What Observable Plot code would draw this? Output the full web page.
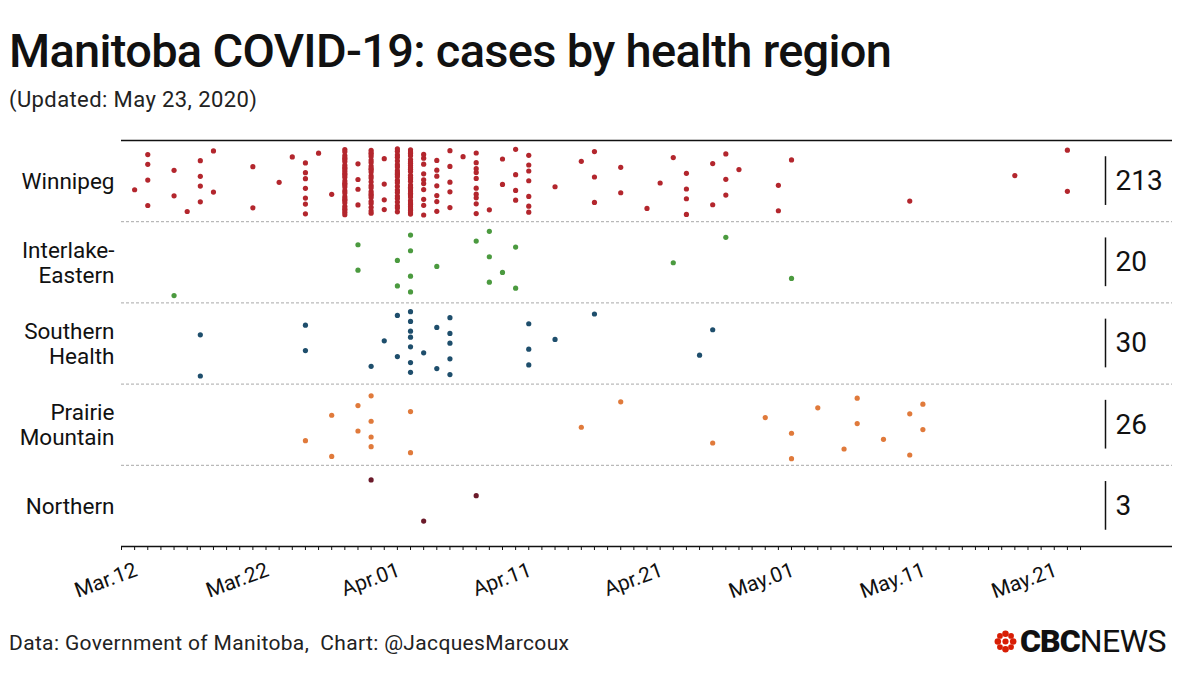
<!DOCTYPE html>
<html>
<head>
<meta charset="utf-8">
<script src="https://cdn.jsdelivr.net/npm/d3@7"></script>
<script src="https://cdn.jsdelivr.net/npm/@observablehq/plot@0.6"></script>
<style>
  html, body { margin: 0; padding: 0; background: #fff; }
  body { width: 1180px; height: 689px; position: relative; overflow: hidden; font-family: Roboto, sans-serif; color: #111; }
  #title { position: absolute; left: 9px; top: 27px; font-size: 47px; line-height: 1; font-weight: 500; letter-spacing: -0.7px; white-space: nowrap; }
  #sub { position: absolute; left: 9px; top: 89px; font-size: 22px; line-height: 1; color: #222; letter-spacing: 0.4px; white-space: nowrap; }
  #chart { position: absolute; left: 0; top: 130px; }
  #footer { position: absolute; left: 9px; top: 633px; font-size: 21px; line-height: 1; color: #222; letter-spacing: 0.35px; white-space: pre; }
  #logo { position: absolute; left: 994px; top: 625px; height: 32px; display: flex; align-items: center; white-space: nowrap; }
  #logo .cbc { font-weight: 900; font-size: 32px; letter-spacing: -1px; margin-left: 3px; color: #111; }
  #logo .news { font-weight: 400; font-size: 32px; letter-spacing: -0.5px; color: #111; }
</style>
</head>
<body>
<div id="title">Manitoba COVID-19: cases by health region</div>
<div id="sub">(Updated: May 23, 2020)</div>
<div id="chart"></div>
<div id="footer">Data: Government of Manitoba,  Chart: @JacquesMarcoux</div>
<div id="logo">
  <svg width="23" height="23" viewBox="-12 -12 24 24">
    <g fill="#d81e05">
      <circle cx="0" cy="0" r="3.2"/>
      <circle cx="0" cy="-8" r="3.4"/>
      <circle cx="0" cy="8" r="3.4"/>
      <circle cx="-8" cy="0" r="3.4"/>
      <circle cx="8" cy="0" r="3.4"/>
      <circle cx="-5.8" cy="-5.8" r="3"/>
      <circle cx="5.8" cy="-5.8" r="3"/>
      <circle cx="-5.8" cy="5.8" r="3"/>
      <circle cx="5.8" cy="5.8" r="3"/>
    </g>
  </svg>
  <span class="cbc">CBC</span><span class="news">NEWS</span>
</div>
<script>
// ---- Data ----
const regions = ["Winnipeg", "Interlake-Eastern", "Southern Health", "Prairie Mountain", "Northern"];
const regionLabels = ["Winnipeg", "Interlake-\nEastern", "Southern\nHealth", "Prairie\nMountain", "Northern"];
const regionColors = ["#b3262d", "#4b9a3f", "#1e4e6c", "#e07a3b", "#6b1a2a"];

const winnipegDates = ["2020-03-12","2020-03-13","2020-03-15","2020-03-16","2020-03-17","2020-03-18","2020-03-21","2020-03-23","2020-03-24","2020-03-25","2020-03-26","2020-03-27","2020-03-28","2020-03-29","2020-03-30","2020-03-31","2020-04-01","2020-04-02","2020-04-03","2020-04-04","2020-04-05","2020-04-06","2020-04-07","2020-04-08","2020-04-09","2020-04-10","2020-04-11","2020-04-13","2020-04-15","2020-04-16","2020-04-18","2020-04-20","2020-04-21","2020-04-22","2020-04-23","2020-04-25","2020-04-26","2020-04-27","2020-04-30","2020-05-01","2020-05-10","2020-05-18","2020-05-22"];
const winnipegCounts = [1,4,2,1,4,2,2,1,1,7,1,1,28,4,24,4,22,30,10,7,5,1,10,1,2,4,7,1,1,3,2,1,1,1,4,2,3,1,2,1,1,1,2];

const interlakeDates = ["2020-03-15","2020-03-29","2020-04-01","2020-04-02","2020-04-04","2020-04-07","2020-04-08","2020-04-09","2020-04-10","2020-04-22","2020-04-26","2020-05-01"];
const interlakeCounts = [1,2,2,4,1,1,3,1,2,1,1,1];

const southernDates = ["2020-03-17","2020-03-25","2020-03-30","2020-03-31","2020-04-01","2020-04-02","2020-04-03","2020-04-04","2020-04-05","2020-04-11","2020-04-13","2020-04-16","2020-04-24","2020-04-25"];
const southernCounts = [2,2,1,1,2,7,1,2,5,3,1,1,1,1];

const prairieDates = ["2020-03-25","2020-03-27","2020-03-29","2020-03-30","2020-04-02","2020-04-15","2020-04-18","2020-04-25","2020-04-29","2020-05-01","2020-05-03","2020-05-05","2020-05-06","2020-05-08","2020-05-10","2020-05-11"];
const prairieCounts = [1,2,2,4,2,1,1,1,1,2,1,1,2,1,2,2];

const northernDates = ["2020-03-30","2020-04-03","2020-04-07"];
const northernCounts = [1,1,1];

const tickLabelDates = ["2020-03-12","2020-03-22","2020-04-01","2020-04-11","2020-04-21","2020-05-01","2020-05-11","2020-05-21"];
const tickLabels = ["Mar.12","Mar.22","Apr.01","Apr.11","Apr.21","May.01","May.11","May.21"];

// ---- Build tables ----
const seriesDates = [winnipegDates, interlakeDates, southernDates, prairieDates, northernDates];
const seriesCounts = [winnipegCounts, interlakeCounts, southernCounts, prairieCounts, northernCounts];

const cases = [];
seriesDates.forEach((dates, ri) => {
  let k = 0;
  dates.forEach((ds, j) => {
    for (let c = 0; c < seriesCounts[ri][j]; c++) {
      // deterministic jitter inside the region's band (golden-ratio sequence)
      const frac = ((k + 1) * 0.6180339887 + ri * 0.37) % 1;
      cases.push({region: regions[ri], ri, date: new Date(ds), yj: ri + 0.1 + 0.82 * frac});
      k++;
    }
  });
});

const rows = regions.map((r, i) => ({region: r, i, label: regionLabels[i], total: d3.sum(seriesCounts[i])}));

const xDomain = [new Date("2020-03-11"), new Date("2020-05-30")];
const dayTicks = d3.utcDay.range(new Date("2020-03-11"), new Date("2020-05-24"));

const chart = Plot.plot({
  width: 1180,
  height: 480,
  marginLeft: 121,
  marginRight: 8,
  marginTop: 10,
  marginBottom: 64,
  x: {type: "utc", domain: xDomain, axis: null},
  y: {domain: [0, 5], reverse: true, axis: null},
  color: {domain: regions, range: regionColors},
  style: {fontFamily: "Roboto, sans-serif", background: "white", overflow: "visible", color: "#111"},
  marks: [
    Plot.ruleY([1, 2, 3, 4], {stroke: "#a8a8a8", strokeWidth: 1, strokeDasharray: "3,2"}),
    Plot.ruleY([0], {stroke: "#111", strokeWidth: 1.6}),
    Plot.ruleY([5], {stroke: "#111", strokeWidth: 1.6}),
    Plot.axisX({ticks: dayTicks, tickSize: 4, tickFormat: () => "", stroke: "#111"}),
    Plot.text(tickLabelDates.map(d => new Date(d)), {
      x: d => d, text: (d, i) => tickLabels[i], frameAnchor: "bottom",
      dx: 4, dy: 29, rotate: -20, textAnchor: "end", lineAnchor: "bottom",
      fontSize: 21, fill: "#111"
    }),
    Plot.dot(cases, {x: "date", y: "yj", r: 2.6, fill: "region", stroke: null}),
    Plot.text(rows, {
      frameAnchor: "left", y: d => d.i + 0.5, text: "label", textAnchor: "end",
      dx: -7, fontSize: 22.5, lineHeight: 1.12, letterSpacing: "0.3px", fill: "#111"
    }),
    Plot.ruleX(rows, {x: () => xDomain[1], dx: -67, y1: d => d.i + 0.2, y2: d => d.i + 0.8, stroke: "#111", strokeWidth: 1.5}),
    Plot.text(rows, {
      frameAnchor: "right", y: d => d.i + 0.5, text: d => String(d.total), textAnchor: "start",
      dx: -57, fontSize: 28, fill: "#111"
    })
  ]
});
document.getElementById("chart").appendChild(chart);
</script>
</body>
</html>
